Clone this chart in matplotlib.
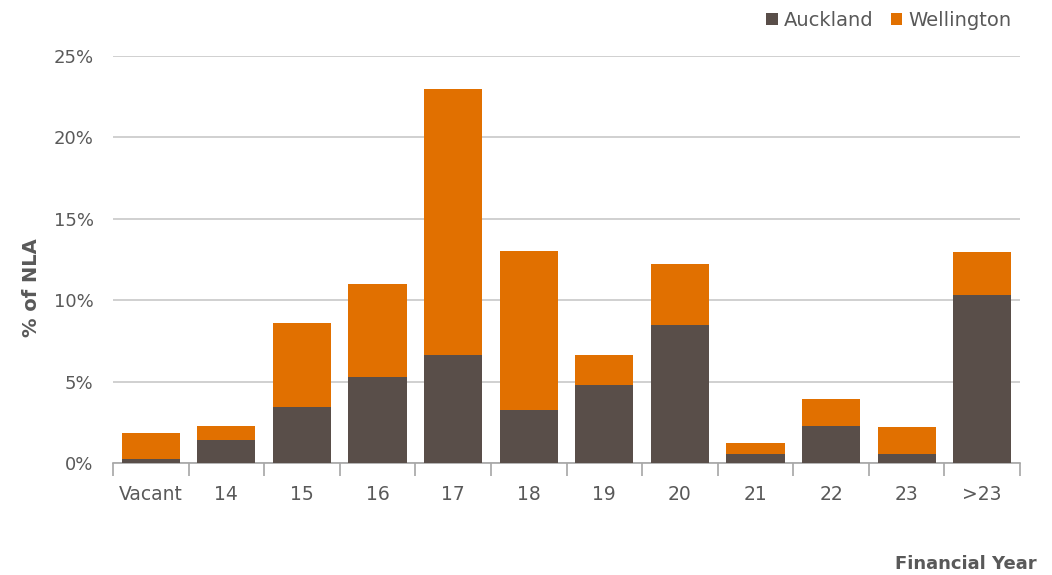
import matplotlib
matplotlib.use("Agg")
import matplotlib.pyplot as plt
import numpy as np

# lease expiry profile, % of NLA
years = ['Vacant', '14', '15', '16', '17', '18', '19', '20', '21', '22', '23', '>23']
auckland = [0.25, 1.41, 3.46, 5.30, 6.63, 3.26, 4.77, 8.48, 0.55, 2.29, 0.55, 10.3]
wellington = [1.60, 0.88, 5.12, 5.70, 16.37, 9.74, 1.86, 3.72, 0.66, 1.64, 1.64, 2.66]

col_akl = '#594e49'
col_wlg = '#e17000'
grey = '#595959'

plt.rcParams['font.family'] = ['DejaVu Sans']

fig = plt.figure(figsize=(10.52, 5.75), dpi=100)
ax = fig.add_axes([0.1074, 0.1948, 0.8622, 0.7078])

x = np.arange(len(years))
ax.bar(x, auckland, width=0.77, color=col_akl, label='Auckland', zorder=3)
ax.bar(x, wellington, width=0.77, bottom=auckland, color=col_wlg, label='Wellington', zorder=3)

ax.set_xlim(-0.5, len(years) - 0.5)
ax.set_ylim(0, 25)
ax.set_yticks(np.arange(0, 26, 5))
ax.set_yticklabels(['%d%%' % v for v in range(0, 26, 5)])
ax.yaxis.grid(True, color='#c8c8c8', linewidth=1.2, zorder=0)
ax.tick_params(axis='y', length=0, pad=14, labelsize=13, labelcolor=grey)

# category labels centred, tick marks on the boundaries
ax.set_xticks(np.arange(-0.5, len(years)), minor=False)
ax.set_xticklabels([])
ax.set_xticks(x, minor=True)
ax.set_xticklabels(years, minor=True)
ax.tick_params(axis='x', which='major', length=9, width=1.2, color='#a6a6a6', direction='out')
ax.tick_params(axis='x', which='minor', length=0, pad=16, labelsize=13.5, labelcolor=grey)

for s in ['top', 'right', 'left']:
    ax.spines[s].set_visible(False)
ax.spines['bottom'].set_color('#a6a6a6')
ax.spines['bottom'].set_linewidth(1.2)

fig.text(0.030, 0.50, '% of NLA', rotation=90, ha='center', va='center',
         fontsize=14, fontweight='bold', color=grey)
fig.text(0.985, 0.004, 'Financial Year', ha='right', va='bottom',
         fontsize=13, fontweight='bold', color=grey)

leg = fig.legend(loc='upper right', bbox_to_anchor=(0.978, 1.012), ncol=2, frameon=False,
                 fontsize=14, handlelength=0.6, handleheight=0.6, handletextpad=0.3,
                 columnspacing=0.9, labelcolor=grey)

fig.savefig('out.png', dpi=100)
